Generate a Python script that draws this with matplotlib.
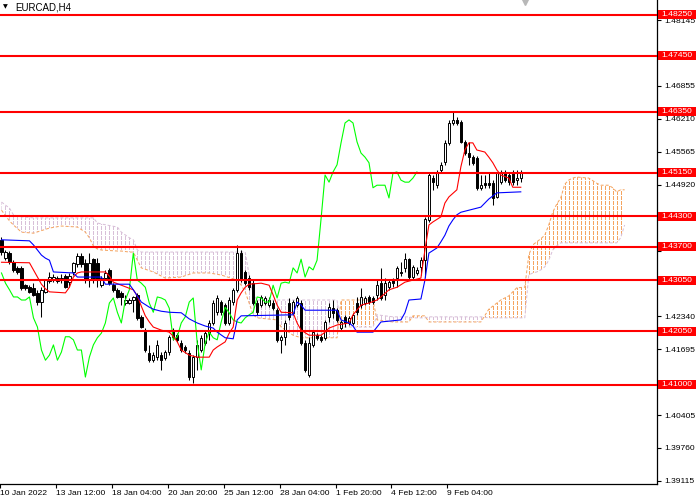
import numpy as np
import matplotlib
matplotlib.use("Agg")
import matplotlib.pyplot as plt
from matplotlib.patches import Rectangle
from matplotlib.path import Path
from matplotlib.transforms import blended_transform_factory

plt.rcParams["font.family"] = ["Liberation Sans", "DejaVu Sans"]

symbol = "EURCAD,H4"

# H4 candles, oldest first
opens = [
    1.4384, 1.4348, 1.4358, 1.4340, 1.4329, 1.4329, 1.4295, 1.4291, 1.4290, 1.4280,
    1.4262, 1.4282, 1.4303, 1.4307, 1.4303, 1.4307, 1.4313, 1.4301, 1.4321, 1.4337,
    1.4352, 1.4339, 1.4305, 1.4346, 1.4339, 1.4295, 1.4309, 1.4325, 1.4295, 1.4286,
    1.4280, 1.4260, 1.4260, 1.4266, 1.4276, 1.4233, 1.4207, 1.4162, 1.4148, 1.4154,
    1.4158, 1.4152, 1.4164, 1.4207, 1.4197, 1.4182, 1.4174, 1.4162, 1.4115, 1.4154,
    1.4168, 1.4182, 1.4201, 1.4221, 1.4242, 1.4262, 1.4256, 1.4221, 1.4262, 1.4286,
    1.4358, 1.4321, 1.4309, 1.4299, 1.4260, 1.4256, 1.4260, 1.4256, 1.4260, 1.4246,
    1.4188, 1.4194, 1.4260, 1.4241, 1.4256, 1.4260, 1.4182, 1.4119, 1.4178, 1.4197,
    1.4194, 1.4192, 1.4233, 1.4250, 1.4246, 1.4211, 1.4233, 1.4221, 1.4221, 1.4260,
    1.4256, 1.4260, 1.4272, 1.4270, 1.4276, 1.4299, 1.4276, 1.4291, 1.4305, 1.4309,
    1.4321, 1.4329, 1.4346, 1.4311, 1.4319, 1.4331, 1.4344, 1.4423, 1.4505, 1.4491,
    1.4521, 1.4536, 1.4574, 1.4613, 1.4619, 1.4615, 1.4576, 1.4554, 1.4546, 1.4544,
    1.4486, 1.4495, 1.4495, 1.4495, 1.4468, 1.4497, 1.4515, 1.4511, 1.4515, 1.4501,
    1.4505,
]
highs = [
    1.4389, 1.4364, 1.4362, 1.4344, 1.4333, 1.4333, 1.4297, 1.4295, 1.4299, 1.4286,
    1.4291, 1.4307, 1.4321, 1.4317, 1.4313, 1.4317, 1.4317, 1.4319, 1.4340, 1.4358,
    1.4358, 1.4346, 1.4358, 1.4348, 1.4348, 1.4313, 1.4325, 1.4329, 1.4299, 1.4290,
    1.4284, 1.4276, 1.4270, 1.4274, 1.4280, 1.4237, 1.4211, 1.4178, 1.4164, 1.4188,
    1.4164, 1.4168, 1.4197, 1.4211, 1.4201, 1.4188, 1.4178, 1.4168, 1.4158, 1.4188,
    1.4197, 1.4207, 1.4227, 1.4266, 1.4276, 1.4266, 1.4260, 1.4272, 1.4290, 1.4374,
    1.4364, 1.4325, 1.4315, 1.4305, 1.4266, 1.4276, 1.4274, 1.4272, 1.4266, 1.4250,
    1.4197, 1.4227, 1.4270, 1.4266, 1.4274, 1.4266, 1.4188, 1.4194, 1.4207, 1.4201,
    1.4197, 1.4227, 1.4260, 1.4266, 1.4250, 1.4227, 1.4237, 1.4235, 1.4241, 1.4272,
    1.4290, 1.4274, 1.4276, 1.4274, 1.4305, 1.4329, 1.4309, 1.4305, 1.4309, 1.4333,
    1.4340, 1.4358, 1.4348, 1.4335, 1.4331, 1.4350, 1.4429, 1.4515, 1.4511, 1.4521,
    1.4536, 1.4580, 1.4619, 1.4634, 1.4625, 1.4619, 1.4580, 1.4576, 1.4550, 1.4548,
    1.4511, 1.4511, 1.4515, 1.4501, 1.4517, 1.4521, 1.4521, 1.4517, 1.4521, 1.4521,
    1.4521,
]
lows = [
    1.4354, 1.4344, 1.4337, 1.4321, 1.4317, 1.4286, 1.4286, 1.4280, 1.4274, 1.4256,
    1.4233, 1.4280, 1.4299, 1.4301, 1.4299, 1.4299, 1.4290, 1.4291, 1.4315, 1.4331,
    1.4331, 1.4299, 1.4291, 1.4299, 1.4291, 1.4291, 1.4305, 1.4295, 1.4282, 1.4270,
    1.4256, 1.4256, 1.4258, 1.4242, 1.4227, 1.4211, 1.4164, 1.4144, 1.4144, 1.4148,
    1.4129, 1.4148, 1.4158, 1.4188, 1.4184, 1.4164, 1.4162, 1.4109, 1.4103, 1.4129,
    1.4164, 1.4178, 1.4188, 1.4217, 1.4237, 1.4237, 1.4217, 1.4217, 1.4256, 1.4282,
    1.4301, 1.4295, 1.4286, 1.4256, 1.4237, 1.4252, 1.4256, 1.4252, 1.4246, 1.4184,
    1.4162, 1.4178, 1.4227, 1.4237, 1.4252, 1.4178, 1.4125, 1.4115, 1.4174, 1.4188,
    1.4184, 1.4188, 1.4223, 1.4231, 1.4223, 1.4207, 1.4213, 1.4217, 1.4217, 1.4237,
    1.4250, 1.4256, 1.4258, 1.4258, 1.4266, 1.4266, 1.4266, 1.4286, 1.4291, 1.4291,
    1.4313, 1.4321, 1.4307, 1.4305, 1.4315, 1.4315, 1.4311, 1.4419, 1.4482, 1.4486,
    1.4517, 1.4531, 1.4570, 1.4609, 1.4609, 1.4574, 1.4550, 1.4531, 1.4531, 1.4482,
    1.4482, 1.4486, 1.4486, 1.4452, 1.4466, 1.4493, 1.4497, 1.4491, 1.4491, 1.4491,
    1.4497,
]
closes = [
    1.4360, 1.4360, 1.4340, 1.4325, 1.4321, 1.4290, 1.4290, 1.4282, 1.4276, 1.4262,
    1.4286, 1.4305, 1.4311, 1.4311, 1.4309, 1.4309, 1.4291, 1.4313, 1.4339, 1.4352,
    1.4337, 1.4305, 1.4339, 1.4309, 1.4305, 1.4309, 1.4319, 1.4299, 1.4286, 1.4272,
    1.4272, 1.4266, 1.4266, 1.4272, 1.4231, 1.4213, 1.4168, 1.4148, 1.4158, 1.4178,
    1.4148, 1.4164, 1.4194, 1.4194, 1.4188, 1.4168, 1.4168, 1.4115, 1.4154, 1.4178,
    1.4192, 1.4201, 1.4221, 1.4260, 1.4270, 1.4242, 1.4221, 1.4266, 1.4286, 1.4358,
    1.4305, 1.4299, 1.4291, 1.4260, 1.4242, 1.4272, 1.4270, 1.4266, 1.4250, 1.4188,
    1.4194, 1.4221, 1.4233, 1.4262, 1.4270, 1.4182, 1.4129, 1.4182, 1.4203, 1.4192,
    1.4188, 1.4223, 1.4252, 1.4241, 1.4227, 1.4223, 1.4221, 1.4231, 1.4237, 1.4242,
    1.4272, 1.4270, 1.4262, 1.4262, 1.4295, 1.4270, 1.4299, 1.4301, 1.4299, 1.4329,
    1.4319, 1.4346, 1.4311, 1.4331, 1.4325, 1.4344, 1.4425, 1.4511, 1.4497, 1.4517,
    1.4531, 1.4574, 1.4613, 1.4619, 1.4613, 1.4576, 1.4554, 1.4546, 1.4535, 1.4486,
    1.4491, 1.4491, 1.4491, 1.4466, 1.4515, 1.4517, 1.4501, 1.4497, 1.4497, 1.4505,
    1.4517,
]

# Ichimoku lines (bar index, price)
tenkan_x = [0, 7, 8, 9, 10, 11, 12, 16, 17, 18, 19, 20, 26, 27, 28, 30, 33, 34, 35, 36,
            37, 38, 40, 42, 43, 44, 45, 47, 49, 52, 53, 54, 56, 57, 58, 59, 60, 61, 62, 65,
            67, 68, 69, 70, 73, 74, 75, 77, 80, 81, 82, 84, 87, 88, 90, 92, 94, 95, 97, 99,
            101, 105, 106, 107, 108, 110, 111, 112, 114, 115, 116, 117, 118, 119, 121, 122,
            123, 124, 125, 127, 128, 130]
tenkan = [1.4340, 1.4339, 1.4325, 1.4311, 1.4297, 1.4288, 1.4282, 1.4280, 1.4291, 1.4311,
          1.4319, 1.4321, 1.4321, 1.4313, 1.4301, 1.4295, 1.4286, 1.4274, 1.4254, 1.4235,
          1.4223, 1.4213, 1.4207, 1.4203, 1.4195, 1.4184, 1.4168, 1.4158, 1.4154, 1.4154,
          1.4168, 1.4174, 1.4184, 1.4201, 1.4213, 1.4266, 1.4280, 1.4291, 1.4297, 1.4299,
          1.4295, 1.4276, 1.4256, 1.4242, 1.4241, 1.4221, 1.4207, 1.4197, 1.4197, 1.4203,
          1.4211, 1.4217, 1.4221, 1.4237, 1.4256, 1.4260, 1.4266, 1.4272, 1.4286, 1.4291,
          1.4301, 1.4309, 1.4364, 1.4413, 1.4419, 1.4429, 1.4456, 1.4468, 1.4482, 1.4527,
          1.4560, 1.4574, 1.4574, 1.4560, 1.4556, 1.4546, 1.4535, 1.4521, 1.4511, 1.4505,
          1.4487, 1.4487]

kijun_x = [0, 7, 8, 9, 10, 11, 12, 13, 18, 19, 25, 26, 32, 33, 34, 35, 37, 38, 40, 42,
           45, 46, 47, 49, 51, 53, 54, 56, 58, 59, 60, 73, 74, 75, 76, 84, 85, 87, 88, 89,
           93, 94, 95, 100, 101, 102, 105, 106, 107, 109, 110, 111, 112, 113, 114, 115,
           117, 119, 120, 121, 122, 124, 130]
kijun = [1.4384, 1.4382, 1.4374, 1.4364, 1.4354, 1.4348, 1.4344, 1.4321, 1.4319, 1.4311,
         1.4311, 1.4297, 1.4297, 1.4286, 1.4274, 1.4262, 1.4252, 1.4248, 1.4244, 1.4242,
         1.4241, 1.4235, 1.4229, 1.4221, 1.4215, 1.4211, 1.4203, 1.4192, 1.4190, 1.4227,
         1.4235, 1.4237, 1.4262, 1.4256, 1.4246, 1.4246, 1.4227, 1.4221, 1.4215, 1.4203,
         1.4203, 1.4213, 1.4223, 1.4227, 1.4241, 1.4266, 1.4268, 1.4305, 1.4358, 1.4368,
         1.4380, 1.4393, 1.4411, 1.4423, 1.4433, 1.4438, 1.4442, 1.4446, 1.4448, 1.4456,
         1.4464, 1.4476, 1.4478]

cloud_x = [0, 2, 3, 5, 8, 12, 15, 19, 21, 22, 23, 24, 25, 29, 30, 32, 33, 34, 35, 38,
           41, 45, 48, 52, 55, 59, 60, 61, 62, 63, 64, 69, 70, 73, 75, 84, 85, 93, 94, 98,
           102, 103, 106, 107, 120, 122, 125, 127, 129, 131, 132, 133, 134, 135, 136, 137,
           138, 139, 140, 141, 142, 143, 144, 147, 149, 150, 152, 153, 154, 155, 156]
span_a = [1.4442, 1.4421, 1.4413, 1.4399, 1.4397, 1.4407, 1.4411, 1.4409, 1.4399, 1.4388,
          1.4372, 1.4366, 1.4364, 1.4362, 1.4362, 1.4360, 1.4360, 1.4344, 1.4329, 1.4321,
          1.4309, 1.4311, 1.4319, 1.4319, 1.4315, 1.4305, 1.4295, 1.4282, 1.4260, 1.4237,
          1.4231, 1.4227, 1.4213, 1.4197, 1.4192, 1.4192, 1.4266, 1.4266, 1.4227, 1.4223,
          1.4223, 1.4235, 1.4235, 1.4223, 1.4223, 1.4248, 1.4266, 1.4274, 1.4290, 1.4291,
          1.4354, 1.4374, 1.4380, 1.4386, 1.4393, 1.4413, 1.4438, 1.4454, 1.4466, 1.4493,
          1.4501, 1.4505, 1.4507, 1.4505, 1.4495, 1.4491, 1.4491, 1.4486, 1.4478, 1.4482,
          1.4482]
span_b = [1.4458, 1.4446, 1.4433, 1.4429, 1.4427, 1.4427, 1.4427, 1.4427, 1.4427, 1.4427,
          1.4427, 1.4417, 1.4415, 1.4409, 1.4399, 1.4388, 1.4384, 1.4364, 1.4360, 1.4360,
          1.4360, 1.4360, 1.4360, 1.4360, 1.4360, 1.4360, 1.4360, 1.4360, 1.4315, 1.4276,
          1.4266, 1.4266, 1.4266, 1.4266, 1.4266, 1.4266, 1.4213, 1.4213, 1.4237, 1.4233,
          1.4233, 1.4231, 1.4231, 1.4233, 1.4233, 1.4231, 1.4231, 1.4231, 1.4231, 1.4231,
          1.4315, 1.4319, 1.4321, 1.4325, 1.4331, 1.4344, 1.4364, 1.4372, 1.4378, 1.4378,
          1.4378, 1.4378, 1.4378, 1.4378, 1.4378, 1.4378, 1.4378, 1.4378, 1.4378, 1.4388,
          1.4413]
chikou_shift = 26

levels = [1.4825, 1.4745, 1.4635, 1.4515, 1.4430, 1.4370, 1.4305, 1.4205, 1.4100]

y_ticks = [1.39115, 1.39760, 1.40405, 1.41050, 1.41695, 1.42340, 1.42985, 1.43630,
           1.44275, 1.44920, 1.45565, 1.46210, 1.46855, 1.47500, 1.48145]

date_bars = [0, 14, 28, 42, 56, 70, 84, 98, 112]
date_labels = ["10 Jan 2022", "13 Jan 12:00", "18 Jan 04:00", "20 Jan 20:00",
               "25 Jan 12:00", "28 Jan 04:00", "1 Feb 20:00", "4 Feb 12:00", "9 Feb 04:00"]


o = np.array(opens)
h = np.array(highs)
l = np.array(lows)
c = np.array(closes)
idx = np.arange(len(c))

fig = plt.figure(figsize=(7, 5), dpi=100)
ax = fig.add_axes([0, 16 / 500, 657 / 700, 484 / 500])
ax.set_xlim(-0.375, 164.1)
ax.set_ylim(1.39054, 1.4854)

for s in ["left", "top"]:
    ax.spines[s].set_visible(False)
for s in ["right", "bottom"]:
    ax.spines[s].set_linewidth(0.9)
    ax.spines[s].set_color("black")

DOTS = (0, (3, 2))

# cloud: dotted vertical hatching clipped to the area between span A and span B
sa = np.array(span_a)
sb = np.array(span_b)
hatch_x = np.arange(len(c) + chikou_shift)
y0, y1 = ax.get_ylim()
for mask, col in [(sa >= sb, "#F4A460"), (sb > sa, "#D8BFD8")]:
    poly = ax.fill_between(cloud_x, sa, sb, where=mask, interpolate=True,
                           facecolor="none", edgecolor="none")
    paths = poly.get_paths()
    if not paths:
        continue
    clip = Path.make_compound_path(*paths)
    vl = ax.vlines(hatch_x, y0, y1, colors=col, linewidth=0.72,
                   linestyles=DOTS, zorder=1, antialiased=False)
    vl.set_clip_path(clip, ax.transData)
ax.plot(cloud_x, sa, color="#F4A460", lw=0.72, ls=DOTS, zorder=1.2)
ax.plot(cloud_x, sb, color="#D8BFD8", lw=0.72, ls=DOTS, zorder=1.2)

# candles
ax.vlines(idx, l, h, color="black", linewidth=0.75, zorder=2)
body_col = np.where(c >= o, "white", "black")
ax.bar(idx, np.abs(c - o), bottom=np.minimum(o, c), width=0.6,
       color=body_col, edgecolor="black", linewidth=0.7, zorder=2.5)

# ichimoku lines
ax.plot(idx[:-chikou_shift], c[chikou_shift:], color="#00FF00", lw=0.8, zorder=3)
ax.plot(tenkan_x, tenkan, color="#FF0000", lw=0.8, zorder=3)
ax.plot(kijun_x, kijun, color="#0000FF", lw=0.8, zorder=3)

# horizontal levels
for lv in levels:
    ax.axhline(lv, color="#FF0000", lw=1.5, zorder=6)

# right price scale; labels sitting fully under a level tag are not shown
tag_h = 9 * (y1 - y0) / 484
ax.yaxis.tick_right()
ax.set_yticks(y_ticks)
ax.set_yticklabels(["" if min(abs(v - lv) for lv in levels) < tag_h * 0.45
                    else f"{v:.5f}" for v in y_ticks])
ax.tick_params(axis="y", length=3, width=0.8, pad=2, labelsize=6.1, colors="black")
ax.set_xticks([b - 0.375 for b in date_bars])
ax.set_xticklabels(date_labels)
for lbl in ax.get_xticklabels():
    lbl.set_horizontalalignment("left")
ax.tick_params(axis="x", length=3, width=0.8, pad=1, labelsize=6.1, colors="black")

# price tags on the right scale
tag_tr = blended_transform_factory(fig.transFigure, ax.transData)
for lv in levels:
    ax.add_patch(Rectangle((658 / 700, lv - tag_h / 2), 38 / 700, tag_h,
                           transform=tag_tr, facecolor="#FF0000", edgecolor="none",
                           clip_on=False, zorder=7))
    ax.text(661 / 700, lv, f"{lv:.5f}", transform=tag_tr, color="white",
            fontsize=6.1, va="center", ha="left", clip_on=False, zorder=8)

# header
fig.text(3 / 700, 1 - 7 / 500, "\u25bc", fontsize=4.5, va="center", ha="left",
         family=["DejaVu Sans"])
fig.text(15 / 700, 1 - 7.5 / 500, symbol, fontsize=7, va="center", ha="left")
ax.plot([525 / 657], [0.996], marker="v", ms=5, color="#B8B8B8",
        transform=ax.transAxes, clip_on=False, zorder=5)

fig.savefig("out.png", dpi=100)
